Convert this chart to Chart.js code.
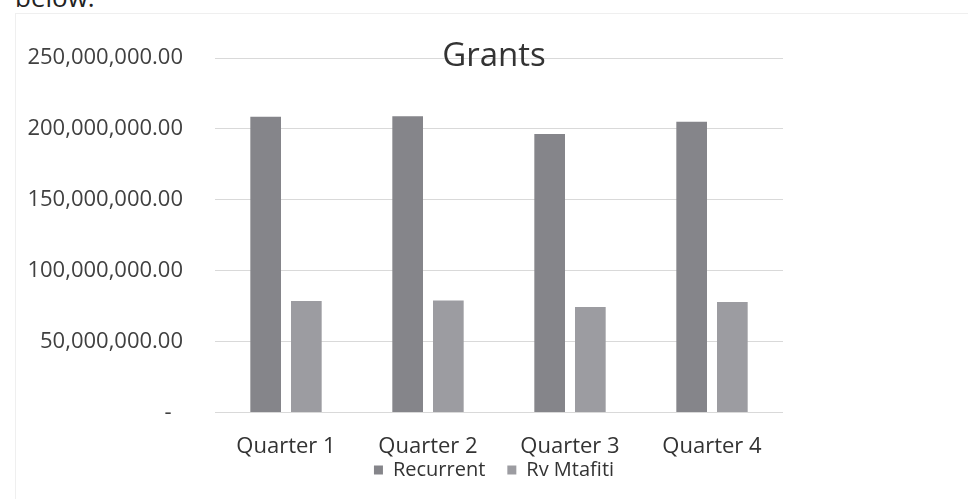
<!DOCTYPE html>
<html><head><meta charset="utf-8">
<script src="https://cdn.jsdelivr.net/npm/chart.js@4/dist/chart.umd.min.js"></script>
<style>
html,body{margin:0;padding:0;background:#fff;overflow:hidden}
#wrap{position:relative;width:968px;height:499px;overflow:hidden}
#doc{position:absolute;left:15px;top:-16px;font:26px/26px "Open Sans";color:#222;white-space:nowrap}
#frame{position:absolute;left:15px;top:13px;width:980px;height:600px;border:1px solid #efefef}
canvas{position:absolute;left:0;top:0}
</style></head>
<body><div id="wrap"><div id="doc">below:</div><div id="frame"></div><canvas id="c" width="968" height="499"></canvas></div>
<script>
const categories = ['Quarter 1', 'Quarter 2', 'Quarter 3', 'Quarter 4'];
const recurrent = [208500000, 209000000, 196500000, 205000000];
const rvMtafiti = [78600000, 79100000, 74400000, 77900000];
const yTicks = [0, 50000000, 100000000, 150000000, 200000000, 250000000];
const seriesNames = ['Recurrent', 'Rv Mtafiti'];
const titleText = 'Grants';

const FONT = '"Open Sans", sans-serif';

const titlePlugin = {
  id: 'overlayTitle',
  afterDraw(chart) {
    const ctx = chart.ctx;
    ctx.save();
    ctx.font = '33px ' + FONT;
    ctx.fillStyle = '#333333';
    ctx.textAlign = 'center';
    ctx.textBaseline = 'middle';
    ctx.fillText(titleText, 494, 57);
    ctx.restore();
  }
};

const legendShift = {
  id: 'legendShift',
  afterLayout(chart) {
    const lg = chart.legend;
    if (lg) {
      const h = lg.height;
      lg.top = 438;
      lg.bottom = 438 + h;
    }
  }
};

new Chart(document.getElementById('c'), {
  type: 'bar',
  data: {
    labels: categories,
    datasets: [
      { label: seriesNames[0], data: recurrent, backgroundColor: '#85858a', yAxisID: 'y' },
      { label: seriesNames[1], data: rvMtafiti, backgroundColor: '#9c9ca1', yAxisID: 'y' }
    ]
  },
  options: {
    responsive: false,
    animation: false,
    devicePixelRatio: 1,
    categoryPercentage: 0.573,
    barPercentage: 0.754,
    layout: { padding: { left: 20, right: 0, top: 58, bottom: -22 } },
    plugins: {
      title: { display: false },
      tooltip: { enabled: false },
      legend: {
        display: true,
        position: 'bottom',
        maxHeight: 40,
        labels: {
          boxWidth: 9,
          boxHeight: 9,
          padding: 22,
          color: '#333333',
          font: { family: FONT, size: 20 }
        }
      }
    },
    scales: {
      x: {
        grid: { display: false, drawTicks: false },
        border: { display: false },
        ticks: { color: '#333333', padding: 21, font: { family: FONT, size: 22 }, maxRotation: 0 }
      },
      y: {
        position: 'left',
        min: 0,
        max: 250000000,
        afterBuildTicks(scale) { scale.ticks = yTicks.map(v => ({ value: v })); },
        afterFit(scale) { scale.width = 195; },
        grid: { color: '#d9d9d9', lineWidth: 1, drawTicks: false },
        border: { display: false },
        ticks: {
          color: '#404040',
          padding: 32,
          font: { family: FONT, size: 22 },
          callback(v) {
            if (v === 0) return '-  ';
            return Number(v).toLocaleString('en-US', { minimumFractionDigits: 2, maximumFractionDigits: 2 });
          }
        }
      },
      yr: {
        position: 'right',
        display: true,
        min: 0,
        max: 250000000,
        afterFit(scale) { scale.width = 185; },
        grid: { display: false, drawTicks: false },
        border: { display: false },
        ticks: { display: false }
      }
    }
  },
  plugins: [titlePlugin, legendShift]
});
</script>
</body></html>
